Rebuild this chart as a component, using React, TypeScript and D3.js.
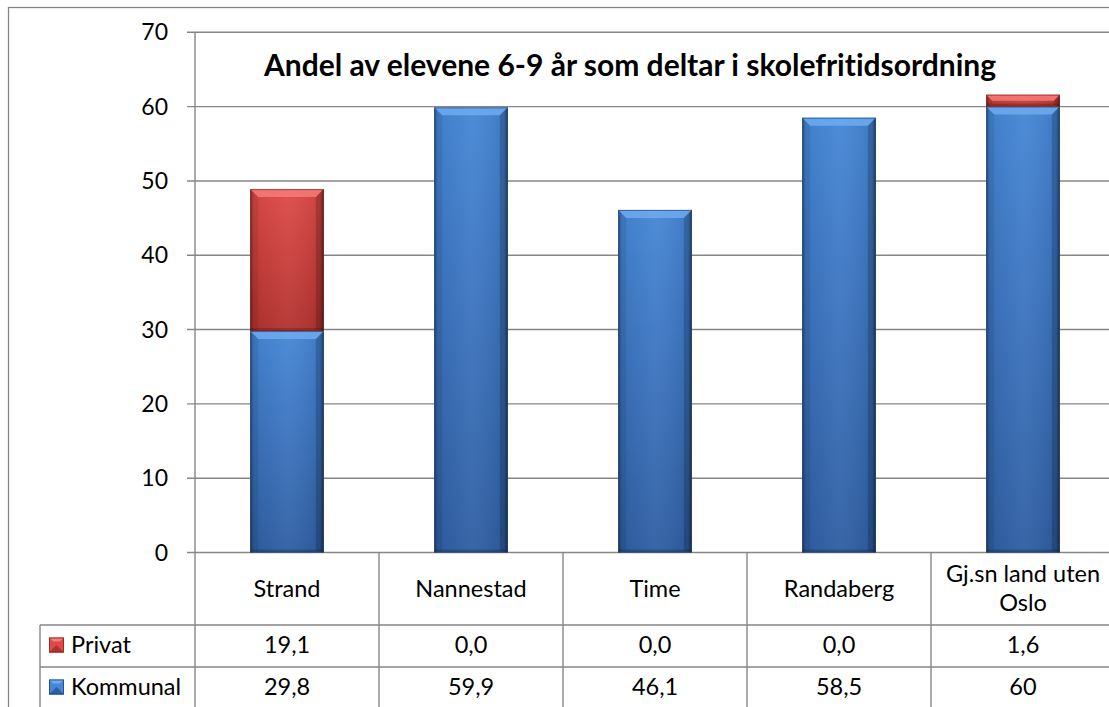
import React from 'react';
import * as d3 from 'd3';

const categories = ['Strand', 'Nannestad', 'Time', 'Randaberg', 'Gj.sn land uten Oslo'];
const categoryLines = [['Strand'], ['Nannestad'], ['Time'], ['Randaberg'], ['Gj.sn land uten', 'Oslo']];
const kommunal = [29.8, 59.9, 46.1, 58.5, 60];
const privat = [19.1, 0, 0, 0, 1.6];
const privatText = ['19,1', '0,0', '0,0', '0,0', '1,6'];
const kommunalText = ['29,8', '59,9', '46,1', '58,5', '60'];
const yTicks = [0, 10, 20, 30, 40, 50, 60, 70];
const title = 'Andel av elevene 6-9 år som deltar i skolefritidsordning';

const W = 1109;
const H = 707;
const FONT = 'Lato, "Open Sans", sans-serif';
const GRID = '#868686';

const plot = { left: 195, right: 1115, top: 32.3, bottom: 552.5 };
const rowY = [552.5, 625, 667, 709];
const tableLeft = 40;

const seriesStyle: Record<string, { top: string; bottom: string; bevel: string; edge: string }> = {
  Kommunal: { top: '#4586d6', bottom: '#2f5ea3', bevel: '#6eaaf0', edge: '#1d3c6a' },
  Privat: { top: '#de4a47', bottom: '#b3322f', bevel: '#f47b78', edge: '#7a1f1d' },
};

const Bar = ({ x, y0, y1, w, s }: { x: number; y0: number; y1: number; w: number; s: string }) => {
  const st = seriesStyle[s];
  const h = y1 - y0;
  if (h <= 0.5) return null;
  const b = Math.min(8, h / 2);
  const x1 = x + w;
  return (
    <g>
      <rect x={x} y={y0} width={w} height={h} fill={`url(#v-${s})`} />
      <rect x={x} y={y0} width={w} height={h} fill="url(#edge)" />
      <polygon points={`${x},${y0} ${x1},${y0} ${x1 - b},${y0 + b} ${x + b},${y0 + b}`} fill={st.bevel} opacity={0.85} />
      <polygon points={`${x},${y0} ${x + b},${y0 + b} ${x + b},${y1 - 2} ${x},${y1}`} fill="#000" opacity={0.08} />
      <polygon points={`${x1},${y0} ${x1 - b},${y0 + b} ${x1 - b},${y1 - 2} ${x1},${y1}`} fill="#000" opacity={0.18} />
      <rect x={x} y={y1 - 3} width={w} height={3} fill="#000" opacity={0.18} />
      <rect x={x + 0.5} y={y0 + 0.5} width={w - 1} height={h - 1} fill="none" stroke={st.edge} strokeOpacity={0.6} strokeWidth={1} />
    </g>
  );
};

const LegendKey = ({ x, y, s }: { x: number; y: number; s: string }) => {
  const st = seriesStyle[s];
  const k = 15;
  return (
    <g>
      <rect x={x} y={y} width={k} height={k} fill={st.top} />
      <polygon points={`${x},${y} ${x + k},${y} ${x + k - 4},${y + 4} ${x + 4},${y + 4}`} fill={st.bevel} />
      <polygon points={`${x},${y + k} ${x + k},${y + k} ${x + k / 2},${y + k / 2}`} fill={st.bottom} />
      <rect x={x + 0.5} y={y + 0.5} width={k - 1} height={k - 1} fill="none" stroke={st.edge} strokeOpacity={0.7} />
    </g>
  );
};

export default function App() {
  const x = d3.scaleBand<string>().domain(categories).range([plot.left, plot.right]).paddingInner(0).paddingOuter(0);
  const y = d3.scaleLinear().domain([0, 70]).range([plot.bottom, plot.top]);
  const barW = x.bandwidth() / 2.5;

  const table = categories.map((c, i) => ({ cat: c, Kommunal: kommunal[i], Privat: privat[i] }));
  const stacked = d3.stack<any>().keys(['Kommunal', 'Privat'])(table);

  return (
    <svg
      width={W}
      height={H}
      style={{ position: 'absolute', left: 0, top: 0, background: '#fff', fontVariantLigatures: 'none' }}
      fontFamily={FONT}
    >
      <defs>
        {Object.keys(seriesStyle).map((s) => (
          <linearGradient key={s} id={`v-${s}`} x1="0" y1="0" x2="0" y2="1">
            <stop offset="0%" stopColor={seriesStyle[s].top} />
            <stop offset="100%" stopColor={seriesStyle[s].bottom} />
          </linearGradient>
        ))}
        <linearGradient id="edge" x1="0" y1="0" x2="1" y2="0">
          <stop offset="0%" stopColor="#000" stopOpacity={0.35} />
          <stop offset="5%" stopColor="#000" stopOpacity={0.05} />
          <stop offset="50%" stopColor="#fff" stopOpacity={0.05} />
          <stop offset="95%" stopColor="#000" stopOpacity={0.08} />
          <stop offset="100%" stopColor="#000" stopOpacity={0.45} />
        </linearGradient>
      </defs>

      {/* chart area border */}
      <rect x={8.5} y={7.5} width={W + 20} height={H + 20} fill="#fff" stroke={GRID} strokeWidth={1.3} />

      {/* gridlines and axis */}
      {yTicks.map((t) => (
        <g key={t}>
          <line x1={plot.left - 8} x2={plot.right} y1={y(t)} y2={y(t)} stroke={GRID} strokeWidth={1.4} />
          <text x={168} y={y(t)} dy="0.35em" textAnchor="end" fontSize={23} fill="#000">
            {t}
          </text>
        </g>
      ))}
      <line x1={plot.left} x2={plot.left} y1={plot.top} y2={rowY[3]} stroke={GRID} strokeWidth={1.4} />

      {/* title */}
      <text x={630} y={76} textAnchor="middle" fontSize={30} fontWeight="bold" fill="#000">
        {title}
      </text>

      {/* bars */}
      {stacked.map((ser) =>
        ser.map((d, i) => (
          <Bar
            key={ser.key + i}
            s={ser.key}
            x={x(categories[i])! + (x.bandwidth() - barW) / 2}
            w={barW}
            y0={y(d[1])}
            y1={y(d[0])}
          />
        ))
      )}

      {/* data table lines */}
      {categories.map((c) => (
        <line key={c} x1={x(c)! + x.bandwidth()} x2={x(c)! + x.bandwidth()} y1={rowY[0]} y2={rowY[3]} stroke={GRID} strokeWidth={1.4} />
      ))}
      {[rowY[1], rowY[2], rowY[3]].map((ry) => (
        <line key={ry} x1={tableLeft} x2={plot.right} y1={ry} y2={ry} stroke={GRID} strokeWidth={1.4} />
      ))}
      <line x1={tableLeft} x2={tableLeft} y1={rowY[1]} y2={rowY[3]} stroke={GRID} strokeWidth={1.4} />

      {/* category labels */}
      {categories.map((c, i) => {
        const lines = categoryLines[i];
        const cx = x(c)! + x.bandwidth() / 2;
        const mid = (rowY[0] + rowY[1]) / 2;
        const lh = 29;
        return (
          <text key={c} x={cx} textAnchor="middle" fontSize={23.5} fill="#000">
            {lines.map((l, j) => (
              <tspan key={l} x={cx} y={mid + (j - (lines.length - 1) / 2) * lh} dy="0.35em">
                {l}
              </tspan>
            ))}
          </text>
        );
      })}

      {/* table rows */}
      {[
        { key: 'Privat', vals: privatText, r: 1 },
        { key: 'Kommunal', vals: kommunalText, r: 2 },
      ].map((row) => {
        const cy = (rowY[row.r] + rowY[row.r + 1]) / 2 - 1;
        return (
          <g key={row.key}>
            <LegendKey x={49} y={cy - 7.5} s={row.key} />
            <text x={71} y={cy} dy="0.35em" fontSize={23.5} fill="#000">
              {row.key}
            </text>
            {row.vals.map((v, i) => (
              <text key={i} x={x(categories[i])! + x.bandwidth() / 2} y={cy} dy="0.35em" textAnchor="middle" fontSize={23.5} fill="#000">
                {v}
              </text>
            ))}
          </g>
        );
      })}
    </svg>
  );
}
